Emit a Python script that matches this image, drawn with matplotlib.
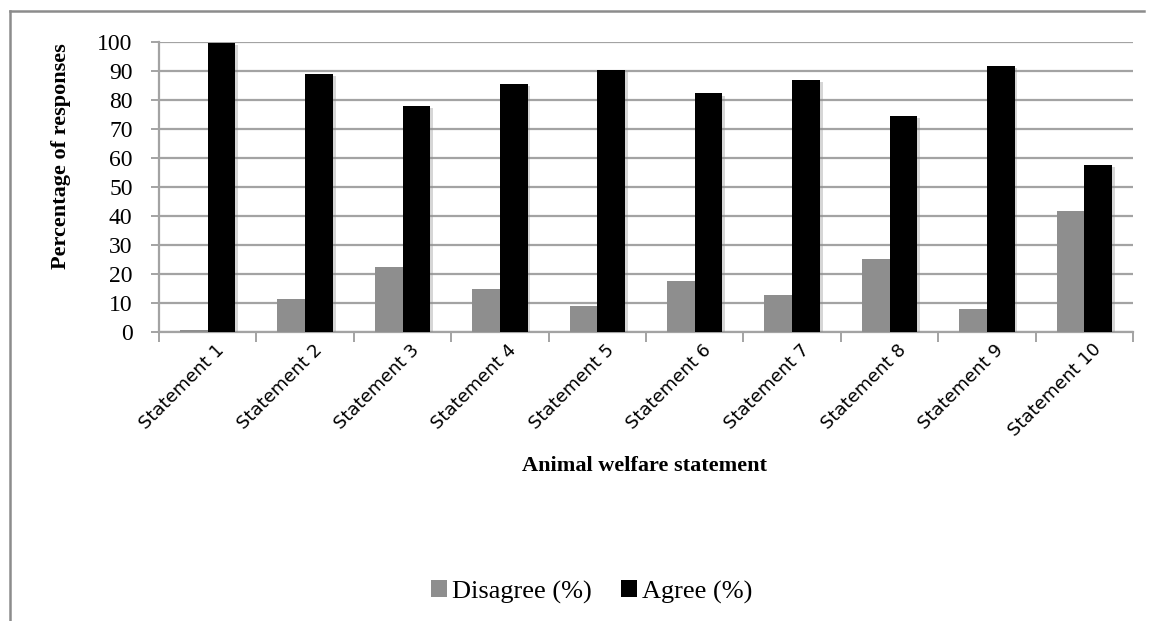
import numpy as np
import matplotlib
matplotlib.use("Agg")
import matplotlib.pyplot as plt
from matplotlib.lines import Line2D
from matplotlib.patches import Patch
from matplotlib import patheffects as pe
from matplotlib.transforms import ScaledTranslation

# Survey responses per statement
statements = ["Statement 1", "Statement 2", "Statement 3", "Statement 4", "Statement 5",
              "Statement 6", "Statement 7", "Statement 8", "Statement 9", "Statement 10"]
disagree = [0.6, 11.2, 22.2, 14.7, 8.9, 17.4, 12.6, 25.0, 7.8, 41.7]
agree = [99.4, 88.9, 77.7, 85.3, 90.2, 82.1, 86.6, 74.2, 91.5, 57.5]
y_ticks = [0, 10, 20, 30, 40, 50, 60, 70, 80, 90, 100]

W, H = 1154, 621
fig = plt.figure(figsize=(W / 100, H / 100), dpi=100)
fig.patch.set_facecolor("white")

serif = ["Liberation Serif", "DejaVu Serif"]
grid_gray = "#a3a3a3"

# plot area in pixel terms
left, right, top, bottom = 159, 1133, 41.5, 331.7
ax = fig.add_axes([left / W, 1 - bottom / H, (right - left) / W, (bottom - top) / H])

x = np.arange(len(statements))
bw = 0.285
shadow = [pe.SimplePatchShadow(offset=(2, -1.5), shadow_rgbFace="0.55", alpha=0.35), pe.Normal()]
ax.bar(x - bw / 2, disagree, bw, color="#8e8e8e", label="Disagree (%)", zorder=3,
       path_effects=shadow)
ax.bar(x + bw / 2, agree, bw, color="black", label="Agree (%)", zorder=3,
       path_effects=shadow)

ax.set_xlim(-0.5, len(statements) - 0.5)
ax.set_ylim(0, 100)
ax.set_yticks(y_ticks)
ax.set_yticklabels([str(v) for v in y_ticks], family=serif, fontsize=17)
ax.yaxis.grid(True, color=grid_gray, linewidth=1.6, zorder=0)
ax.set_axisbelow(True)

for side in ("top", "right"):
    ax.spines[side].set_visible(False)
for side in ("left", "bottom"):
    ax.spines[side].set_color(grid_gray)
    ax.spines[side].set_linewidth(1.6)

ax.tick_params(axis="y", direction="out", length=6, width=1.4, color=grid_gray, pad=13)

# category boundaries carry the tick marks, centres carry the labels
ax.set_xticks(np.arange(-0.5, len(statements)), minor=True)
ax.set_xticks(x)
ax.tick_params(axis="x", which="minor", direction="out", length=7, width=1.4, color=grid_gray)
ax.tick_params(axis="x", which="major", length=0, pad=11)
ax.set_xticklabels(statements, rotation=45, ha="right", va="center",
                   rotation_mode="anchor", fontsize=13, family="DejaVu Sans")
shift = ScaledTranslation(14 / 100, 0, fig.dpi_scale_trans)
for lab in ax.get_xticklabels():
    lab.set_transform(lab.get_transform() + shift)

# axis titles
fig.text(61 / W, 1 - 156 / H, "Percentage of responses", rotation=90, ha="center",
         va="center", family=serif, fontweight="bold", fontsize=16)
fig.text(645 / W, 1 - 466 / H, "Animal welfare statement", ha="center", va="center",
         family=serif, fontweight="bold", fontsize=16)

# legend
handles = [Patch(facecolor="#8e8e8e", label="Disagree (%)"),
           Patch(facecolor="black", label="Agree (%)")]
fig.legend(handles=handles, loc="center", bbox_to_anchor=(592 / W, 1 - 592 / H),
           ncol=2, frameon=False, prop={"family": serif, "size": 19},
           handlelength=0.6, handleheight=0.6, handletextpad=0.2, columnspacing=1.1)

# chart frame (open at the right and bottom edges)
frame_kw = dict(color="#8c8c8c", linewidth=1.8, transform=fig.transFigure)
fig.add_artist(Line2D([10 / W, 1144 / W], [1 - 11 / H, 1 - 11 / H], **frame_kw))
fig.add_artist(Line2D([10 / W, 10 / W], [1 - 11 / H, 0], **frame_kw))

fig.savefig("out.png", dpi=100, facecolor="white")
